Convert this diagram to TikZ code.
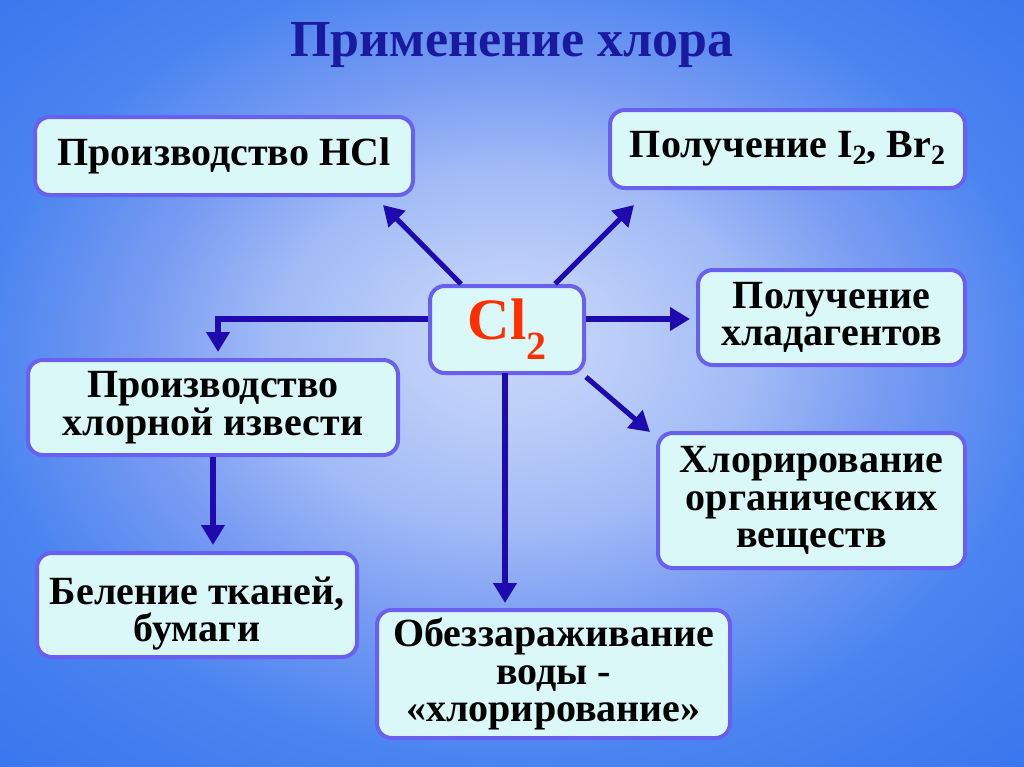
\documentclass[tikz,border=0pt]{standalone}
\usepackage{fontspec}
\setmainfont{Liberation Serif}
\usetikzlibrary{arrows.meta,calc}
\definecolor{bg0}{HTML}{C6D6FA}
\definecolor{bg1}{HTML}{BCCEF8}
\definecolor{bg2}{HTML}{A0BAF6}
\definecolor{bg3}{HTML}{7A9CF2}
\definecolor{bg4}{HTML}{4A84F0}
\definecolor{bg5}{HTML}{3A76EE}
\definecolor{boxborder}{HTML}{6A60F0}
\definecolor{boxfill}{HTML}{DAF8F8}
\definecolor{arrowc}{HTML}{1F0AB0}
\definecolor{titlec}{HTML}{1A1A9E}
\definecolor{clred}{HTML}{FF3000}
\pgfdeclareradialshading{bgshade}{\pgfpoint{0bp}{3bp}}{color(0bp)=(bg0);color(5bp)=(bg1);color(12bp)=(bg2);color(18bp)=(bg3);color(26bp)=(bg4);color(36bp)=(bg5);color(50bp)=(bg5)}
\tikzset{
  box/.style={draw=boxborder, line width=3pt, fill=boxfill, rounded corners=11pt,
    font=\bfseries\fontsize{30}{28}\selectfont, align=center, inner sep=0pt},
  conn/.style={draw=arrowc, line width=3.8pt, -{Triangle[length=15pt,width=17pt]}},
}
\begin{document}
\begin{tikzpicture}[x=0.75pt,y=-0.75pt]
\useasboundingbox (0,0) rectangle (1024,767);
\shade[shading=bgshade] (0,0) rectangle (1024,767);
\node[font=\bfseries\fontsize{39}{40}\selectfont, text=titlec] (title) at (512,45) {Применение хлора};
\node[box, minimum width={378*0.75pt}, minimum height={78*0.75pt}] (hcl) at (224,156) {Производство HCl};
\node[box, minimum width={355*0.75pt}, minimum height={78*0.75pt}] (ibr) at (787.5,149) {Получение I{\fontsize{21}{21}\selectfont\raisebox{-5pt}{2}}, Br{\fontsize{21}{21}\selectfont\raisebox{-5pt}{2}}};
\node[box, minimum width={154*0.75pt}, minimum height={87*0.75pt}, text=clred, font=\bfseries\fontsize{44}{44}\selectfont] (cl) at (507,329.5) {Cl{\fontsize{30}{30}\selectfont\raisebox{-15pt}{2}}};
\node[box, minimum width={267*0.75pt}, minimum height={95*0.75pt}] (cold) at (831.5,317.5) {Получение\\хладагентов};
\node[box, minimum width={370*0.75pt}, minimum height={95*0.75pt}] (izv) at (213,407.5) {Производство\\хлорной извести};
\node[box, minimum width={307*0.75pt}, minimum height={135*0.75pt}] (org) at (811.5,500.5) {Хлорирование\\органических\\веществ};
\node[box, minimum width={320*0.75pt}, minimum height={104*0.75pt}] (bel) at (197,605) {\rule{0pt}{33pt}Беление тканей,\\бумаги};
\node[box, minimum width={353*0.75pt}, minimum height={128*0.75pt}] (obz) at (553.5,674) {Обеззараживание\\воды -\\«хлорирование»};
% connector free ends
\coordinate (tHCl) at (383,205);
\coordinate (tIBr) at (634,205);
\coordinate (tCold) at (690,319);
\coordinate (tIzv) at (218,352);
\coordinate (tOrg) at (650,432);
\coordinate (tObz) at (505,603);
\coordinate (tBel) at (213,545);
\coordinate (bend) at (218,319);
\draw[conn] ($(cl.north west)+(33,0)$) -- (tHCl);
\draw[conn] ($(cl.north east)+(-31,0)$) -- (tIBr);
\draw[conn] (cl.east |- tCold) -- (tCold);
\draw[conn] (cl.west |- bend) -- (bend) -- (tIzv);
\draw[conn] ($(cl.south east)+(0,2)$) -- (tOrg);
\draw[conn] (cl.south |- 0,373) ++(-2,0) -- (tObz);
\draw[conn] (izv.south) -- (tBel);
\end{tikzpicture}
\end{document}
